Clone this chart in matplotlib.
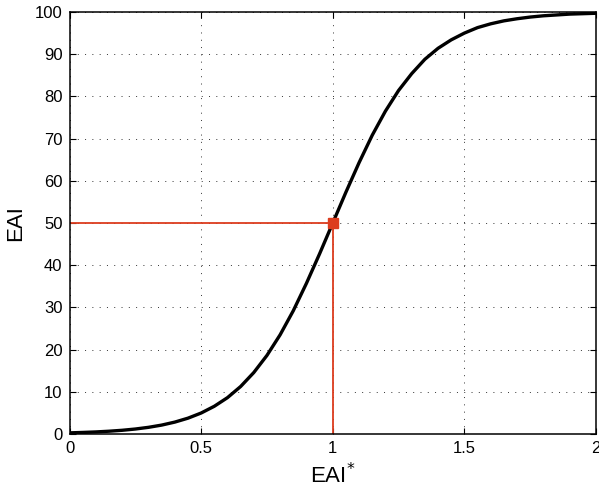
import matplotlib
matplotlib.use('Agg')
import matplotlib.pyplot as plt

plt.rcParams['font.family'] = ['Liberation Sans', 'DejaVu Sans']

eai_star = [0.00, 0.05, 0.10, 0.15, 0.20, 0.25, 0.30, 0.35, 0.40, 0.45,
            0.50, 0.55, 0.60, 0.65, 0.70, 0.75, 0.80, 0.85, 0.90, 0.95,
            1.00, 1.05, 1.10, 1.15, 1.20, 1.25, 1.30, 1.35, 1.40, 1.45,
            1.50, 1.55, 1.60, 1.65, 1.70, 1.75, 1.80, 1.85, 1.90, 1.95, 2.00]
eai = [0.27, 0.37, 0.49, 0.66, 0.88, 1.18, 1.58, 2.11, 2.82, 3.75,
       4.97, 6.57, 8.61, 11.25, 14.56, 18.62, 23.5, 29.2, 35.7, 42.7,
       50.0, 57.3, 64.3, 70.8, 76.5, 81.4, 85.4, 88.8, 91.4, 93.4,
       95.0, 96.3, 97.2, 97.9, 98.4, 98.8, 99.1, 99.3, 99.5, 99.6, 99.7]

# reference point
ref_x = 1.0
ref_y = 50.0

red = '#dc3c1e'

fig = plt.figure(figsize=(5.99, 4.95), dpi=100)
ax = fig.add_axes([69.5 / 599, 1 - 434 / 495, (596 - 69.5) / 599, (434 - 12) / 495])

ax.plot(eai_star, eai, color='black', linewidth=2.4, zorder=3)
ax.plot([0, ref_x], [ref_y, ref_y], color=red, linewidth=1.3, zorder=2)
ax.plot([ref_x, ref_x], [0, ref_y], color=red, linewidth=1.3, zorder=2)
ax.plot([ref_x], [ref_y], marker='s', markersize=7, color=red, zorder=4)

ax.set_xlim(0, 2)
ax.set_ylim(0, 100)
ax.set_xticks([0, 0.5, 1, 1.5, 2])
ax.set_xticklabels(['0', '0.5', '1', '1.5', '2'])
ax.set_yticks(range(0, 101, 10))

ax.grid(True, color='#333333', linestyle=(0, (1, 6.5)), linewidth=0.7)
ax.tick_params(direction='in', length=4, width=0.8, top=True, right=True,
               labelsize=12, pad=5)
for s in ax.spines.values():
    s.set_linewidth(1.1)

ax.set_xlabel('EAI$^{*}$', fontsize=16, labelpad=5)
ax.set_ylabel('EAI', fontsize=16, labelpad=6)

fig.savefig('out.png', dpi=100)
